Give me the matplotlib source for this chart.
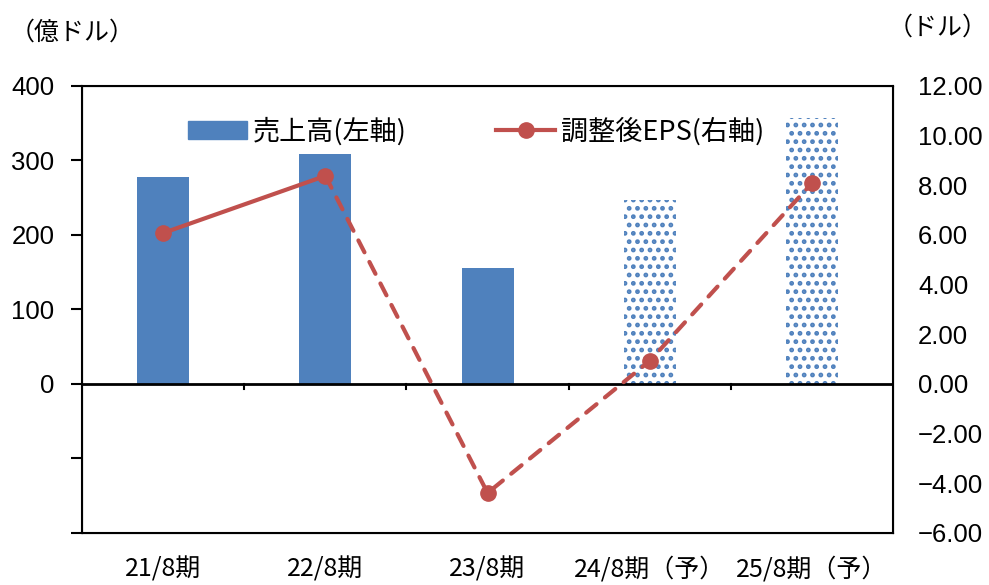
import matplotlib
matplotlib.use('Agg')
import matplotlib.pyplot as plt
from matplotlib.lines import Line2D
from matplotlib.patches import Patch
import numpy as np

plt.rcParams['font.family'] = ['Noto Sans CJK JP', 'DejaVu Sans']
plt.rcParams['hatch.linewidth'] = 2.2

periods = ['21/8期', '22/8期', '23/8期', '24/8期（予）', '25/8期（予）']
sales = [278, 309, 156, 247, 357]          # 億ドル
eps = [6.08, 8.38, -4.39, 0.93, 8.09]      # ドル
forecast = [False, False, False, True, True]

blue = '#4F81BD'
red = '#C0504D'
num_font = ['Liberation Sans', 'DejaVu Sans']

fig = plt.figure(figsize=(9.89, 5.85), dpi=100)
ax = fig.add_axes([0.083, 0.089, 0.82, 0.764])
x = np.arange(len(periods))

for i in range(len(periods)):
    if forecast[i]:
        ax.bar(x[i], sales[i], width=0.32, facecolor='white', edgecolor=blue,
               hatch='..', linewidth=0, zorder=2)
    else:
        ax.bar(x[i], sales[i], width=0.32, color=blue, zorder=2)

ax.set_xlim(-0.5, len(periods) - 0.5)
ax.set_ylim(-200, 400)
ax.set_yticks([-200, -100, 0, 100, 200, 300, 400])
ax.set_yticklabels(['', '', '0', '100', '200', '300', '400'], fontsize=18.5,
                   family=num_font)
ax.tick_params(axis='y', length=8, width=1.5, direction='out', pad=12)
ax.set_xticks([])
for s in ax.spines.values():
    s.set_linewidth(1.5)

# 0 の位置の横軸と区切り目盛
ax.axhline(0, color='black', lw=2, zorder=3)
for b in x[:-1] + 0.5:
    ax.plot([b, b], [0, -7], color='black', lw=1.5, zorder=3, clip_on=False)

for i, lab in enumerate(periods):
    ax.text(x[i], -232, lab, ha='center', va='top', fontsize=18)

ax2 = ax.twinx()
ax2.set_ylim(-6, 12)
ax2.set_yticks(np.arange(-6, 13, 2))
ax2.set_yticklabels([f'{v:.2f}'.replace('-', '−') for v in np.arange(-6, 13, 2)],
                    fontsize=18.5, family=num_font)
ax2.tick_params(axis='y', length=0, pad=18)
ax2.set_xlim(-0.5, len(periods) - 0.5)

ax2.plot(x[:2], eps[:2], color=red, lw=3, solid_capstyle='round', zorder=4)
ax2.plot(x[1:], eps[1:], color=red, lw=3, linestyle=(0, (3.2, 2.6)),
         dash_capstyle='round', zorder=4)
ax2.plot(x, eps, 'o', color=red, markersize=11, zorder=5)

fig.text(0.010, 0.945, '（億ドル）', fontsize=18, va='center')
fig.text(0.897, 0.952, '（ドル）', fontsize=18, va='center')

handles = [Patch(color=blue), Line2D([], [], color=red, lw=3, marker='o', markersize=11)]
ax.legend(handles, ['売上高(左軸)', '調整後EPS(右軸)'], loc='upper left',
          bbox_to_anchor=(0.1, 0.985), ncol=2, frameon=False, fontsize=19.5,
          columnspacing=3.3, handlelength=2.2, handletextpad=0.2)

fig.savefig('out.png', dpi=100)
